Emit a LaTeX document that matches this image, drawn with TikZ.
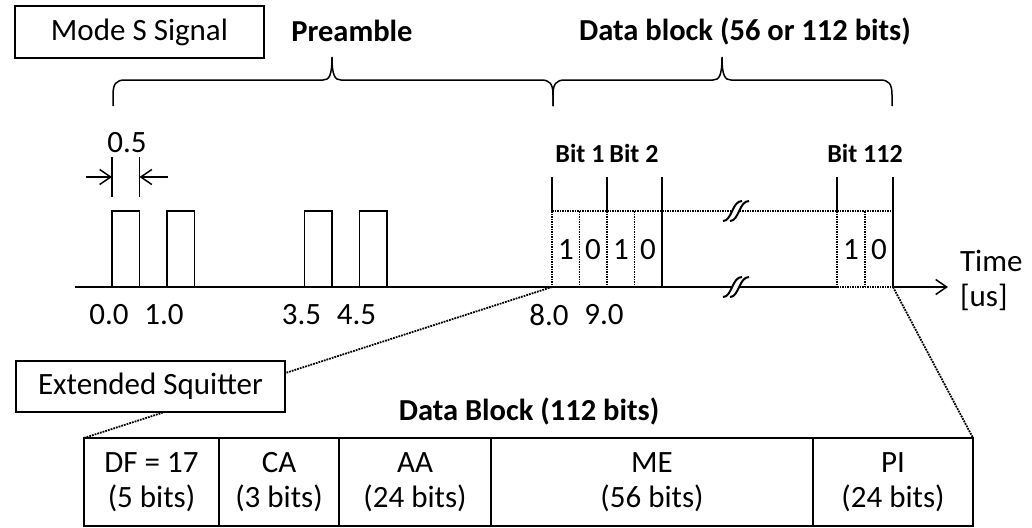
\documentclass[tikz,border=0pt]{standalone}
\usepackage{fontspec}
\setmainfont{Carlito}
\usetikzlibrary{arrows.meta,positioning}

\def\xzero{112}
\def\usec{55}
\def\axisy{287}
\def\topy{211}

% curly brace over a part of the signal: left end, tip, right end
\newcommand{\sigbrace}[3]{%
    \draw (#1,106) -- (#1,95) .. controls (#1,84) and ({#1+3},80) .. ({#1+12},80)
        -- ({#2-9},80) .. controls ({#2-3},80) and (#2,76) .. (#2,57)
        .. controls (#2,76) and ({#2+3},80) .. ({#2+9},80)
        -- ({#3-12},80) .. controls ({#3-3},80) and (#3,84) .. (#3,95) -- (#3,106);}

% break mark on a line
\newcommand{\breakmark}[2]{%
    \fill[white] ({#1-14},{#2+10}) .. controls ({#1-5},{#2+10}) and ({#1-5},{#2-10}) .. ({#1+5},{#2-10})
        -- ({#1+12},{#2-10}) .. controls ({#1+2},{#2-10}) and ({#1+2},{#2+10}) .. ({#1-7},{#2+10}) -- cycle;
    \draw[line width=2pt] ({#1-14},{#2+10}) .. controls ({#1-5},{#2+10}) and ({#1-5},{#2-10}) .. ({#1+5},{#2-10});
    \draw[line width=2pt] ({#1-7},{#2+10}) .. controls ({#1+2},{#2+10}) and ({#1+2},{#2-10}) .. ({#1+12},{#2-10});}

\begin{document}
\begin{tikzpicture}[x=1pt,y=-1pt,line width=1.5pt,>={Straight Barb[length=11pt,width=15pt]}]
    \tikzstyle{every node}=[font=\fontsize{31}{35}\selectfont]
    \tikzstyle{titlebox}=[draw, rectangle, fill=white, inner sep=0pt]
    \tikzstyle{heading}=[font=\fontsize{30.5}{35}\selectfont\bfseries]
    \tikzstyle{bitlabel}=[font=\fontsize{26}{30}\selectfont\bfseries]
    \tikzstyle{field}=[draw, rectangle, outer sep=0pt, minimum height=88, align=center]
    \tikzstyle{cell}=[densely dotted]
    \tikzstyle{zoomline}=[densely dotted, line width=1.8pt]

    \useasboundingbox (0,0) rectangle (1032,527);

    % Title and the parts of the signal
    \node[titlebox, minimum width=249, minimum height=52] (mode) at (139.5,32) {Mode S Signal};
    \node[heading] (pre) at (352,31) {Preamble};
    \node[heading] (data) at (745,31) {Data block (56 or 112 bits)};

    \sigbrace{113}{332}{553}
    \sigbrace{553}{722}{892}

    % Draw the preamble pulses
    \foreach \t in {0,1,3.5,4.5}
        \draw ({\xzero+\t*\usec},\axisy) -- ({\xzero+\t*\usec},\topy)
            -- ({\xzero+(\t+0.5)*\usec},\topy) -- ({\xzero+(\t+0.5)*\usec},\axisy);

    % Pulse width
    \draw (\xzero,157) -- (\xzero,197);
    \draw ({\xzero+0.5*\usec},157) -- ({\xzero+0.5*\usec},197);
    \coordinate (w0) at (\xzero,177);
    \coordinate (w1) at ({\xzero+0.5*\usec},177);
    \coordinate (w0out) at (86,177);
    \coordinate (w1out) at (168,177);
    \draw[->] (w0out) -- (w0);
    \draw[->] (w1out) -- (w1);
    \node (width) at (127,143) {0.5};

    % Draw the data bits
    \foreach \x in {552,607,837}
        \draw (\x,177) -- (\x,\topy);
    \foreach \x in {662,893}
        \draw (\x,177) -- (\x,\axisy);
    \foreach \x in {552,579.5,607,634.5,837,865}
        \draw[cell] (\x,\topy) -- (\x,\axisy);
    \draw[cell] (552,\topy) -- (893,\topy);
    \draw[cell] (837,\axisy) -- (893,\axisy);

    \foreach \x / \b [count=\i] in {566/1,593/0,621/1,648/0,851/1,879/0}
        \node (bit-\i) at (\x,250) {\b};

    \node[bitlabel] (b1) at (580,153) {Bit 1};
    \node[bitlabel] (b2) at (634,153) {Bit 2};
    \node[bitlabel] (b112) at (865,153) {Bit 112};

    % Time axis
    \coordinate (axL) at (75,\axisy);
    \coordinate (axR) at (948,\axisy);
    \draw (axL) -- (837,\axisy);
    \draw[->] (893,\axisy) -- (axR);
    \breakmark{737}{\topy}
    \breakmark{737}{\axisy}
    \node[anchor=west, align=left] (time) at (956,280) {Time\\{[us]}};

    \foreach \t / \lab [count=\i] in {0/0.0,1/1.0,3.5/3.5,4.5/4.5,8/8.0,9/9.0}
        \node (tick-\i) at ({\xzero+\t*\usec-3},315) {\lab};

    % Extended squitter data block
    \node[heading] (dbtitle) at (529,411) {Data Block (112 bits)};
    \node[field, minimum width=135, anchor=north west] (df) at (84,438) {DF = 17\\(5 bits)};
    \node[field, minimum width=120, right=0pt of df] (ca) {CA\\(3 bits)};
    \node[field, minimum width=152, right=0pt of ca] (aa) {AA\\(24 bits)};
    \node[field, minimum width=322, right=0pt of aa] (me) {ME\\(56 bits)};
    \node[field, minimum width=160, right=0pt of me] (pi) {PI\\(24 bits)};

    \coordinate (zoomL) at (552,\axisy);
    \coordinate (zoomR) at (893,\axisy);
    \draw[zoomline] (zoomL) -- (df.north west);
    \draw[zoomline] (zoomR) -- (pi.north east);

    \node[titlebox, minimum width=269, minimum height=51] (esq) at (150.5,386.5) {Extended Squitter};
\end{tikzpicture}
\end{document}
